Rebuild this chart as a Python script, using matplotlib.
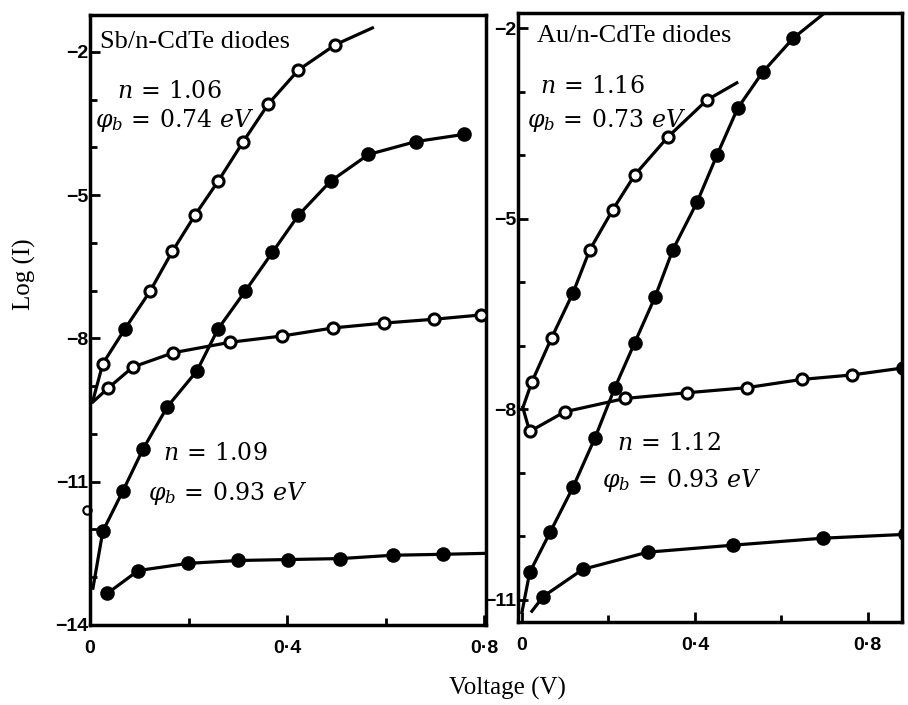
import numpy as np
import matplotlib.pyplot as plt
from matplotlib.ticker import MultipleLocator

plt.rcParams['mathtext.fontset'] = 'dejavuserif'

# ---- left panel: Sb/n-CdTe diodes (forward / reverse, two samples) ----
sb_open_x = [0.026, 0.071, 0.122, 0.167, 0.213, 0.260, 0.311, 0.362, 0.423, 0.498]
sb_open_y = [-8.53, -7.80, -7.01, -6.18, -5.42, -4.71, -3.88, -3.09, -2.38, -1.85]
sb_open_fill = [0, 1, 0, 0, 0, 0, 0, 0, 0, 0]
sb_open_start = (0.006, -9.30)
sb_open_end = (0.573, -1.50)

sb_solid_x = [0.026, 0.067, 0.108, 0.157, 0.217, 0.260, 0.315, 0.370, 0.423, 0.488, 0.565, 0.661, 0.758]
sb_solid_y = [-12.04, -11.19, -10.31, -9.43, -8.68, -7.80, -7.01, -6.20, -5.42, -4.71, -4.15, -3.88, -3.73]
sb_solid_start = (0.006, -13.23)

sb_open_rev_x = [0.037, 0.087, 0.169, 0.285, 0.390, 0.494, 0.596, 0.697, 0.793]
sb_open_rev_y = [-9.04, -8.60, -8.30, -8.08, -7.95, -7.78, -7.68, -7.60, -7.51]
sb_open_rev_start = (0.006, -9.33)

sb_solid_rev_x = [0.035, 0.098, 0.199, 0.301, 0.402, 0.508, 0.614, 0.717]
sb_solid_rev_y = [-13.34, -12.86, -12.71, -12.65, -12.63, -12.61, -12.54, -12.52]
sb_solid_rev_end = (0.803, -12.50)

sb_stray = (-0.006, -11.60)

# ---- right panel: Au/n-CdTe diodes ----
au_open_x = [0.023, 0.069, 0.118, 0.157, 0.210, 0.261, 0.338, 0.428]
au_open_y = [-7.57, -6.87, -6.17, -5.49, -4.86, -4.31, -3.71, -3.13]
au_open_fill = [0, 0, 1, 0, 0, 0, 0, 0]
au_open_start = (0.003, -7.96)
au_open_end = (0.497, -2.86)

au_solid_x = [0.018, 0.065, 0.118, 0.169, 0.215, 0.261, 0.308, 0.349, 0.405, 0.451, 0.499, 0.557, 0.627]
au_solid_y = [-10.57, -9.94, -9.23, -8.45, -7.66, -6.95, -6.23, -5.49, -4.74, -4.00, -3.26, -2.69, -2.16]
au_solid_start = (0.0, -11.20)
au_solid_end = (0.70, -1.76)

au_open_rev_x = [0.018, 0.099, 0.238, 0.382, 0.520, 0.647, 0.763, 0.881]
au_open_rev_y = [-8.35, -8.04, -7.83, -7.74, -7.66, -7.53, -7.46, -7.35]
au_open_rev_fill = [0, 0, 0, 0, 0, 0, 0, 1]
au_open_rev_start = (0.002, -7.97)

au_solid_rev_x = [0.049, 0.141, 0.291, 0.488, 0.696, 0.886]
au_solid_rev_y = [-10.95, -10.52, -10.25, -10.14, -10.03, -9.97]
au_solid_rev_start = (0.023, -11.18)

left_yticks = [-2, -5, -8, -11, -14]
right_yticks = [-2, -5, -8, -11]
xticks = [0, 0.4, 0.8]
xtick_labels = ['0', '0·4', '0·8']

serif = 'Liberation Serif'
tickfont = dict(family='Liberation Sans', weight='bold', size=14)


def draw(ax, x, y, filled, start=None, end=None):
    lx = list(x)
    ly = list(y)
    if start is not None:
        lx = [start[0]] + lx
        ly = [start[1]] + ly
    if end is not None:
        lx = lx + [end[0]]
        ly = ly + [end[1]]
    ax.plot(lx, ly, color='black', lw=2.3, zorder=2)
    if isinstance(filled, bool):
        filled = [filled] * len(x)
    x = np.array(x)
    y = np.array(y)
    f = np.array(filled, dtype=bool)
    ax.plot(x[f], y[f], 'o', ms=9, mfc='black', mec='black', mew=1.5, zorder=3)
    ax.plot(x[~f], y[~f], 'o', ms=8, mfc='white', mec='black', mew=2.2, zorder=3)


def style(ax, yticks):
    for s in ax.spines.values():
        s.set_linewidth(2.5)
    ax.set_yticks(yticks)
    ax.set_yticklabels(['\u2212' + str(abs(t)) for t in yticks], fontdict=tickfont)
    ax.yaxis.set_minor_locator(MultipleLocator(1))
    ax.set_xticks(xticks)
    ax.set_xticklabels(xtick_labels, fontdict=tickfont)
    ax.xaxis.set_minor_locator(MultipleLocator(0.2))
    ax.tick_params(which='both', direction='in', width=2, colors='black')
    ax.tick_params(which='major', length=7, pad=1)
    ax.tick_params(which='minor', length=5)
    ax.tick_params(axis='x', pad=11)


fig = plt.figure(figsize=(9.08, 7.05), dpi=100)

# left panel
ax1 = fig.add_axes([0.0991, 0.1135, 0.4359, 0.8652])
draw(ax1, sb_open_x, sb_open_y, sb_open_fill, sb_open_start, sb_open_end)
draw(ax1, sb_solid_x, sb_solid_y, True, sb_solid_start)
draw(ax1, sb_open_rev_x, sb_open_rev_y, False, sb_open_rev_start)
draw(ax1, sb_solid_rev_x, sb_solid_rev_y, True, None, sb_solid_rev_end)
ax1.plot([sb_stray[0]], [sb_stray[1]], 'o', ms=6, mfc='white', mec='black', mew=1.5, clip_on=False)
ax1.set_xlim(0, 0.803)
ax1.set_ylim(-14, -1.23)
style(ax1, left_yticks)

ax1.text(0.025, 0.955, 'Sb/n-CdTe diodes', transform=ax1.transAxes,
         family=serif, fontsize=19, va='center', ha='left')
ax1.text(0.068, 0.876, r'$n\,=\,1.06$', transform=ax1.transAxes, fontsize=17, va='center')
ax1.text(0.012, 0.827, r'$\varphi_b\,=\,0.74\ eV$', transform=ax1.transAxes, fontsize=17, va='center')
ax1.text(0.185, 0.282, r'$n\,=\,1.09$', transform=ax1.transAxes, fontsize=17, va='center')
ax1.text(0.147, 0.216, r'$\varphi_b\,=\,0.93\ eV$', transform=ax1.transAxes, fontsize=17, va='center')

# right panel
ax2 = fig.add_axes([0.5705, 0.1177, 0.4229, 0.8639])
draw(ax2, au_open_x, au_open_y, au_open_fill, au_open_start, au_open_end)
draw(ax2, au_solid_x, au_solid_y, True, au_solid_start, au_solid_end)
draw(ax2, au_open_rev_x, au_open_rev_y, au_open_rev_fill, au_open_rev_start)
draw(ax2, au_solid_rev_x, au_solid_rev_y, True, au_solid_rev_start)
ax2.set_xlim(-0.009, 0.879)
ax2.set_ylim(-11.35, -1.76)
style(ax2, right_yticks)

ax2.text(0.05, 0.962, 'Au/n-CdTe diodes', transform=ax2.transAxes,
         family=serif, fontsize=19, va='center', ha='left')
ax2.text(0.057, 0.88, r'$n\,=\,1.16$', transform=ax2.transAxes, fontsize=17, va='center')
ax2.text(0.023, 0.823, r'$\varphi_b\,=\,0.73\ eV$', transform=ax2.transAxes, fontsize=17, va='center')
ax2.text(0.257, 0.294, r'$n\,=\,1.12$', transform=ax2.transAxes, fontsize=17, va='center')
ax2.text(0.22, 0.233, r'$\varphi_b\,=\,0.93\ eV$', transform=ax2.transAxes, fontsize=17, va='center')

fig.text(0.027, 1 - 274 / 705, 'Log (I)', rotation=90, family=serif, fontsize=18,
         ha='center', va='center')
fig.text(507 / 908, 1 - 688 / 705, 'Voltage (V)', family=serif, fontsize=18,
         ha='center', va='center')

fig.savefig('out.png', dpi=100)
